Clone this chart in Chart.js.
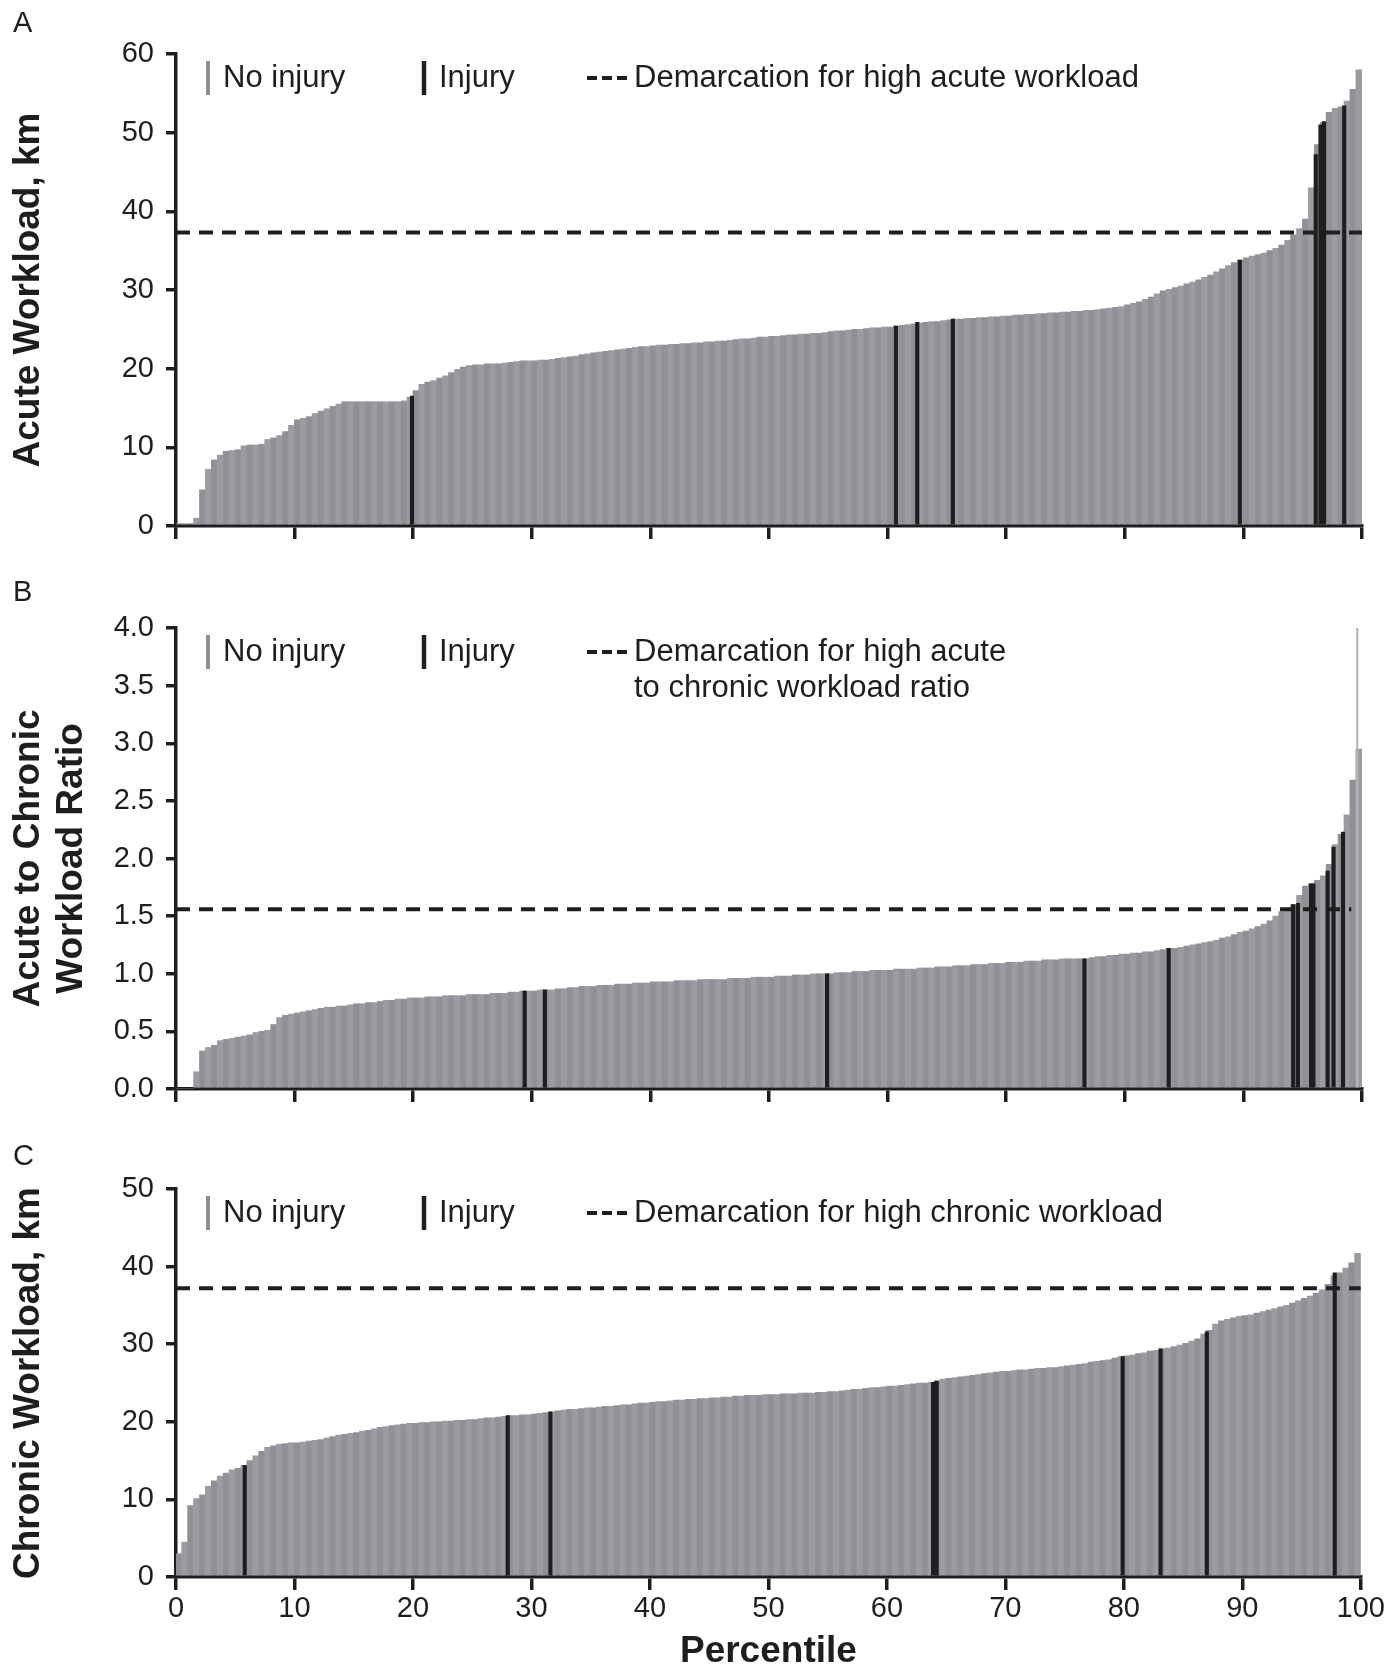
<!DOCTYPE html>
<html>
<head>
<meta charset="utf-8">
<script src="https://cdn.jsdelivr.net/npm/chart.js@4.4.1/dist/chart.umd.min.js"></script>
<style>
html,body{margin:0;padding:0;background:#ffffff;}
#wrap{position:relative;width:1387px;height:1667px;overflow:hidden;}
canvas{position:absolute;left:0;}
</style>
</head>
<body>
<div id="wrap">
<canvas id="cA" width="1387" height="560" style="top:0px"></canvas>
<canvas id="cB" width="1387" height="560" style="top:560px"></canvas>
<canvas id="cC" width="1387" height="547" style="top:1120px"></canvas>
</div>
<script>
// ---------- DATA ----------
// bar positions: centre of each half-percentile bin (0.25, 0.75, ... 99.75)
const binCenters = Array.from({length: 200}, (_, i) => 0.25 + i * 0.5);
const percentileTicks = [0, 10, 20, 30, 40, 50, 60, 70, 80, 90, 100];

// Panel A: acute workload (km), sorted
const acuteValues = [
  0.3,0.3,0.3,1.0,4.6,7.2,8.4,9.0,9.5,9.6,
  9.7,10.2,10.3,10.3,10.4,11.0,11.2,11.5,12.0,12.8,
  13.5,13.7,13.9,14.3,14.6,14.9,15.2,15.5,15.8,15.8,
  15.8,15.8,15.8,15.8,15.8,15.8,15.8,15.8,15.9,16.4,
  17.2,18.0,18.3,18.5,18.8,19.1,19.5,19.9,20.2,20.4,
  20.5,20.5,20.6,20.6,20.6,20.7,20.8,20.9,21.0,21.0,
  21.0,21.1,21.1,21.2,21.3,21.4,21.5,21.6,21.8,21.9,
  22.0,22.1,22.2,22.3,22.4,22.5,22.6,22.7,22.8,22.8,
  22.9,23.0,23.0,23.1,23.1,23.2,23.2,23.3,23.3,23.4,
  23.4,23.5,23.5,23.6,23.7,23.8,23.8,23.9,24.0,24.0,
  24.1,24.1,24.2,24.3,24.3,24.4,24.4,24.5,24.5,24.6,
  24.7,24.8,24.8,24.9,25.0,25.0,25.1,25.2,25.2,25.3,
  25.3,25.4,25.5,25.6,25.7,25.8,25.9,26.0,26.0,26.1,
  26.2,26.3,26.3,26.4,26.4,26.5,26.5,26.6,26.6,26.7,
  26.7,26.8,26.8,26.9,26.9,27.0,27.0,27.1,27.1,27.2,
  27.2,27.3,27.3,27.4,27.4,27.5,27.6,27.7,27.8,27.9,
  28.1,28.3,28.5,28.8,29.1,29.5,29.9,30.1,30.3,30.5,
  30.8,31.0,31.3,31.6,31.9,32.3,32.7,33.1,33.5,33.8,
  34.1,34.3,34.5,34.7,35.0,35.3,35.7,36.3,37.0,37.8,
  39.0,43.0,48.5,51.3,52.6,53.1,53.3,54.0,55.5,58.0
];
const acuteInjuryPct = [19.9, 60.7, 62.5, 65.5, 89.7, 96.1, 96.5, 96.8, 98.5];
const acuteInjuryVal = [16.5, 25.4, 25.9, 26.3, 33.8, 47.2, 51.0, 51.4, 53.4];
const acuteCut = 37.3;

// Panel B: acute to chronic workload ratio, sorted
const ratioValues = [
  0,0,0,0.15,0.33,0.36,0.38,0.42,0.43,0.44,
  0.45,0.46,0.47,0.49,0.50,0.51,0.56,0.62,0.64,0.65,
  0.66,0.67,0.68,0.69,0.70,0.71,0.71,0.72,0.72,0.73,
  0.74,0.74,0.75,0.75,0.76,0.77,0.77,0.78,0.78,0.79,
  0.79,0.79,0.80,0.80,0.80,0.81,0.81,0.81,0.81,0.82,
  0.82,0.82,0.82,0.83,0.83,0.83,0.84,0.84,0.85,0.85,
  0.85,0.86,0.86,0.86,0.87,0.87,0.88,0.88,0.89,0.89,
  0.89,0.90,0.90,0.90,0.91,0.91,0.91,0.92,0.92,0.92,
  0.93,0.93,0.93,0.93,0.94,0.94,0.94,0.94,0.95,0.95,
  0.95,0.95,0.95,0.96,0.96,0.96,0.96,0.97,0.97,0.97,
  0.97,0.98,0.98,0.98,0.99,0.99,0.99,1.00,1.00,1.00,
  1.00,1.01,1.01,1.01,1.02,1.02,1.02,1.03,1.03,1.03,
  1.03,1.04,1.04,1.04,1.04,1.05,1.05,1.05,1.06,1.06,
  1.06,1.07,1.07,1.07,1.08,1.08,1.08,1.09,1.09,1.09,
  1.10,1.10,1.10,1.11,1.11,1.11,1.12,1.12,1.12,1.13,
  1.13,1.13,1.13,1.13,1.14,1.15,1.15,1.16,1.16,1.17,
  1.17,1.18,1.18,1.19,1.19,1.20,1.21,1.22,1.22,1.23,
  1.24,1.25,1.26,1.27,1.28,1.29,1.31,1.32,1.34,1.36,
  1.37,1.39,1.41,1.43,1.46,1.50,1.54,1.57,1.60,1.68,
  1.76,1.78,1.81,1.85,1.95,2.12,2.21,2.38,2.68,2.95
];
const ratioInjuryPct = [29.4, 31.1, 54.9, 76.6, 83.7, 94.2, 94.6, 95.7, 95.9, 97.1, 97.6, 98.4];
const ratioInjuryVal = [0.85, 0.86, 1.00, 1.13, 1.22, 1.60, 1.61, 1.78, 1.78, 1.89, 2.10, 2.23];
const ratioOutlierPct = [99.6];
const ratioOutlierVal = [4.0];
const ratioCut = 1.56;

// Panel C: chronic workload (km), sorted
const chronicValues = [
  3.0,4.5,9.2,10.1,10.6,11.7,12.4,13.0,13.4,13.8,
  14.0,14.4,15.0,15.6,16.2,16.7,16.9,17.1,17.2,17.3,
  17.3,17.4,17.5,17.6,17.7,17.9,18.1,18.3,18.4,18.5,
  18.6,18.8,18.9,19.1,19.3,19.4,19.5,19.6,19.7,19.8,
  19.8,19.9,19.9,20.0,20.0,20.1,20.1,20.2,20.2,20.3,
  20.3,20.4,20.5,20.5,20.6,20.7,20.8,20.8,20.9,20.9,
  21.0,21.1,21.2,21.3,21.4,21.5,21.6,21.6,21.7,21.8,
  21.8,21.9,22.0,22.0,22.1,22.2,22.2,22.3,22.4,22.4,
  22.5,22.6,22.6,22.7,22.8,22.8,22.9,22.9,23.0,23.0,
  23.1,23.1,23.2,23.2,23.3,23.3,23.4,23.4,23.4,23.5,
  23.5,23.5,23.6,23.6,23.6,23.7,23.7,23.7,23.8,23.8,
  23.9,23.9,24.0,24.1,24.2,24.2,24.3,24.4,24.4,24.5,
  24.6,24.6,24.7,24.8,24.9,25.0,25.0,25.1,25.3,25.5,
  25.6,25.7,25.8,25.9,26.0,26.1,26.2,26.3,26.4,26.5,
  26.5,26.6,26.7,26.7,26.8,26.9,26.9,27.0,27.0,27.1,
  27.2,27.3,27.4,27.5,27.7,27.8,27.9,28.0,28.2,28.4,
  28.5,28.6,28.8,28.9,29.1,29.2,29.4,29.5,29.7,29.9,
  30.1,30.4,30.7,31.3,31.8,32.6,33.0,33.2,33.4,33.6,
  33.7,33.8,34.0,34.2,34.4,34.6,34.8,35.0,35.3,35.6,
  35.9,36.2,36.6,37.0,37.7,38.8,39.2,39.8,40.5,41.7
];
const chronicInjuryPct = [5.8, 28.0, 31.6, 63.9, 64.2, 79.9, 83.1, 87.0, 97.8];
const chronicInjuryVal = [14.4, 20.8, 21.3, 25.1, 25.2, 28.4, 29.4, 31.6, 39.2];
const chronicCut = 37.2;

// ---------- STYLE ----------
const FONT = '"Liberation Sans", Arial, Helvetica, sans-serif';
const INK = '#1e1e1e';
const GRAY_A = '#909196', GRAY_B = '#9b9ca1';
Chart.defaults.font.family = FONT;
Chart.defaults.color = INK;

const legendPlugin = {
  id: 'panelLegend',
  afterDraw(chart, args, opts) {
    const {ctx, chartArea} = chart;
    const left = chartArea.left, cy = chartArea.top + 24;
    ctx.save();
    ctx.lineCap = 'butt';
    ctx.strokeStyle = '#8e8f94'; ctx.lineWidth = 4;
    ctx.beginPath(); ctx.moveTo(left + 32, cy - 17); ctx.lineTo(left + 32, cy + 17); ctx.stroke();
    ctx.strokeStyle = INK; ctx.lineWidth = 4.5;
    ctx.beginPath(); ctx.moveTo(left + 248, cy - 17); ctx.lineTo(left + 248, cy + 17); ctx.stroke();
    ctx.lineWidth = 4; ctx.setLineDash([10, 5]);
    ctx.beginPath(); ctx.moveTo(left + 411, cy); ctx.lineTo(left + 451, cy); ctx.stroke();
    ctx.setLineDash([]);
    ctx.fillStyle = INK;
    ctx.font = '31px ' + FONT;
    ctx.textBaseline = 'middle'; ctx.textAlign = 'left';
    ctx.fillText('No injury', left + 47, cy);
    ctx.fillText('Injury', left + 263, cy);
    opts.lines.forEach((t, i) => ctx.fillText(t, left + 458, cy + i * 36.6));
    ctx.font = '29px ' + FONT;
    ctx.fillText(opts.letter, 13, opts.letterY);
    ctx.restore();
  }
};

function makePanel(id, p) {
  const grayData = binCenters.map((x, i) => ({x: x, y: p.values[i]}));
  const injData = p.injPct.map((x, i) => ({x: x, y: p.injVal[i]}));
  const datasets = [
    {type: 'line', data: [{x: 0, y: p.cut}, {x: p.cutEnd, y: p.cut}], borderColor: INK,
     borderWidth: 4, borderDash: [14, 9], pointRadius: 0, order: 0},
    {type: 'bar', data: injData, backgroundColor: INK, barThickness: 3.5, stack: 's', order: 1},
    {type: 'bar', data: grayData, backgroundColor: grayData.map((d, i) => i % 2 ? GRAY_B : GRAY_A),
     barThickness: 6.4, stack: 's', order: 3}
  ];
  if (p.outPct) {
    datasets.push({type: 'bar', data: p.outPct.map((x, i) => ({x: x, y: p.outVal[i]})),
      backgroundColor: '#b4b5b9', barThickness: 1.5, stack: 's', order: 2});
  }
  const xGrid = {drawOnChartArea: false, drawTicks: true, tickLength: 13, tickWidth: 3.5,
    tickColor: INK, color: INK, lineWidth: 3.5, offset: false};
  const yGrid = {drawOnChartArea: false, drawTicks: true, tickLength: 10, tickWidth: 3.5,
    tickColor: INK, color: INK, lineWidth: 3.5, offset: false};
  const axisBorder = {display: true, color: INK, width: 3.5};
  new Chart(document.getElementById(id), {
    type: 'bar',
    data: {datasets},
    options: {
      responsive: false,
      animation: false,
      events: [],
      layout: {padding: {top: p.padTop, right: 25, left: 0, bottom: 0}},
      plugins: {legend: {display: false}, tooltip: {enabled: false},
        panelLegend: {lines: p.legendLines, letter: p.letter, letterY: p.letterY}},
      scales: {
        x: {
          type: 'linear', min: 0, max: 100, offset: false,
          afterBuildTicks: s => { s.ticks = percentileTicks.map(v => ({value: v})); },
          ticks: {display: p.showX, stepSize: 10, padding: 2, color: INK, font: {size: 29}},
          grid: xGrid, border: axisBorder,
          title: {display: p.showX, text: 'Percentile', color: INK,
            font: {size: 37, weight: 'bold', lineHeight: 0.8}, padding: {top: 0, bottom: 0}},
          afterFit: s => { s.height = p.xH; }
        },
        y: {
          type: 'linear', min: 0, max: p.yMax, stacked: false,
          ticks: {stepSize: p.yStep, padding: 12, color: INK, font: {size: 29},
            callback: v => p.decimals ? Number(v).toFixed(1) : String(Math.round(v))},
          grid: yGrid, border: axisBorder,
          title: {display: true, text: p.yTitle, color: INK,
            font: {size: 37, weight: 'bold', lineHeight: 1.15}, padding: {top: 8, bottom: 0}},
          afterFit: s => { s.width = 176; }
        }
      }
    },
    plugins: [legendPlugin]
  });
}

makePanel('cA', {values: acuteValues, injPct: acuteInjuryPct, injVal: acuteInjuryVal,
  cut: acuteCut, cutEnd: 100, yMax: 60, yStep: 10, decimals: false,
  yTitle: 'Acute Workload, km', padTop: 54, xH: 34, showX: false,
  legendLines: ['Demarcation for high acute workload'], letter: 'A', letterY: 23.5});

makePanel('cB', {values: ratioValues, injPct: ratioInjuryPct, injVal: ratioInjuryVal,
  outPct: ratioOutlierPct, outVal: ratioOutlierVal,
  cut: ratioCut, cutEnd: 99.1, yMax: 4, yStep: 0.5, decimals: true,
  yTitle: ['Acute to Chronic', 'Workload Ratio'], padTop: 68, xH: 31, showX: false,
  legendLines: ['Demarcation for high acute', 'to chronic workload ratio'], letter: 'B', letterY: 33});

makePanel('cC', {values: chronicValues, injPct: chronicInjuryPct, injVal: chronicInjuryVal,
  cut: chronicCut, cutEnd: 100, yMax: 50, yStep: 10, decimals: false,
  yTitle: 'Chronic Workload, km', padTop: 69, xH: 90, showX: true,
  legendLines: ['Demarcation for high chronic workload'], letter: 'C', letterY: 36.5});
</script>
</body>
</html>
